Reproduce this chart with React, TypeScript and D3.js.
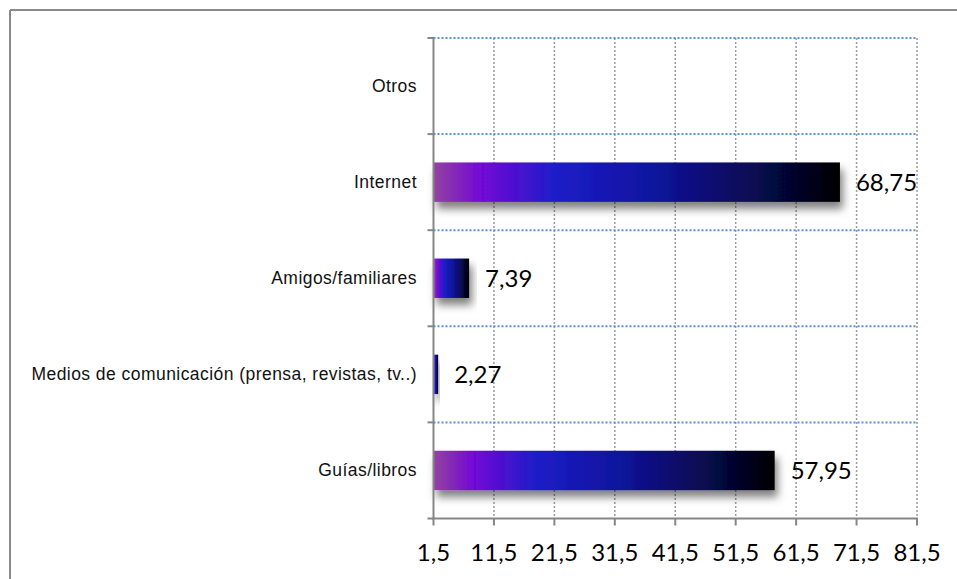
import React from "react";
import * as d3 from "d3";

const categories = [
  "Otros",
  "Internet",
  "Amigos/familiares",
  "Medios de comunicación (prensa, revistas, tv..)",
  "Guías/libros",
];
const values = [0, 68.75, 7.39, 2.27, 57.95];
const tickValues = [1.5, 11.5, 21.5, 31.5, 41.5, 51.5, 61.5, 71.5, 81.5];

const W = 957;
const H = 579;
const left = 433.5;
const right = 917;
const top = 38;
const bottom = 518.5;

const fmt = (v: number, d: number) => v.toFixed(d).replace(".", ",");

export default function App() {
  const x = d3.scaleLinear().domain([1.5, 81.5]).range([left, right]);
  const y = d3.scaleBand<string>().domain(categories).range([top, bottom]).padding(0);
  const bw = y.bandwidth();
  const barH = bw * 0.41;

  return (
    <svg width={W} height={H} style={{ position: "absolute", left: 0, top: 0, background: "#fff" }}>
      <defs>
        <linearGradient id="barGrad" x1="0" y1="0" x2="1" y2="0">
          <stop offset="0" stopColor="#93449f" />
          <stop offset="0.12" stopColor="#7206d6" />
          <stop offset="0.3" stopColor="#1d1dc8" />
          <stop offset="0.55" stopColor="#0f139c" />
          <stop offset="0.8" stopColor="#07094e" />
          <stop offset="1" stopColor="#000000" />
        </linearGradient>
        <filter id="shadow" x="-20%" y="-60%" width="140%" height="240%">
          <feDropShadow dx="3" dy="7" stdDeviation="4" floodColor="#000" floodOpacity="0.5" />
        </filter>
      </defs>

      {/* outer frame */}
      <line x1={10} y1={10} x2={W} y2={10} stroke="#8a8a8a" strokeWidth={2} />
      <line x1={10} y1={10} x2={10} y2={H} stroke="#8a8a8a" strokeWidth={2} />

      {/* vertical gridlines */}
      {tickValues.slice(1).map((t) => (
        <line key={"vg" + t} x1={x(t)} x2={x(t)} y1={top} y2={bottom} stroke="#9a9a9a" strokeWidth={1.5} strokeDasharray="2,2" />
      ))}

      {/* horizontal gridlines */}
      {categories.map((c) => (
        <line key={"hg" + c} x1={left} x2={right} y1={y(c)!} y2={y(c)!} stroke="#5b8fd6" strokeWidth={2} strokeDasharray="2,2" />
      ))}

      {/* bars */}
      {categories.map((c, i) => {
        const v = values[i];
        if (v <= 0) return null;
        const x0 = x(1.5);
        const x1 = x(Math.max(v, 1.5));
        const yc = y(c)! + bw / 2;
        return (
          <rect key={"b" + c} x={x0} y={yc - barH / 2} width={Math.max(x1 - x0, 0)} height={barH} fill="url(#barGrad)" filter="url(#shadow)" />
        );
      })}

      {/* axes */}
      <line x1={left} x2={left} y1={top - 1} y2={bottom + 1} stroke="#868686" strokeWidth={2} />
      <line x1={left - 1} x2={right + 1} y1={bottom} y2={bottom} stroke="#868686" strokeWidth={2} />
      {categories.map((c) => (
        <line key={"yt" + c} x1={left - 6} x2={left} y1={y(c)!} y2={y(c)!} stroke="#868686" strokeWidth={2} />
      ))}
      <line x1={left - 6} x2={left} y1={bottom} y2={bottom} stroke="#868686" strokeWidth={2} />
      {tickValues.map((t) => (
        <line key={"xt" + t} x1={x(t)} x2={x(t)} y1={bottom} y2={bottom + 7} stroke="#868686" strokeWidth={2} />
      ))}

      {/* tick labels */}
      {tickValues.map((t) => (
        <text key={"xl" + t} x={x(t)} y={561} textAnchor="middle" fontFamily="Lato, 'Open Sans', sans-serif" fontSize={24} fill="#000">
          {fmt(t, 1)}
        </text>
      ))}

      {/* category labels */}
      {categories.map((c) => (
        <text key={"cl" + c} x={417} y={y(c)! + bw / 2 + 6} textAnchor="end" fontFamily="'Liberation Sans', Arial, sans-serif" fontSize={17.5} letterSpacing={0.45} fill="#111">
          {c}
        </text>
      ))}

      {/* value labels */}
      {categories.map((c, i) => {
        const v = values[i];
        if (v <= 0) return null;
        return (
          <text key={"vl" + c} x={x(Math.max(v, 1.5)) + 16} y={y(c)! + bw / 2 + 9} fontFamily="Lato, 'Open Sans', sans-serif" fontSize={24} fill="#000">
            {fmt(v, 2)}
          </text>
        );
      })}
    </svg>
  );
}
